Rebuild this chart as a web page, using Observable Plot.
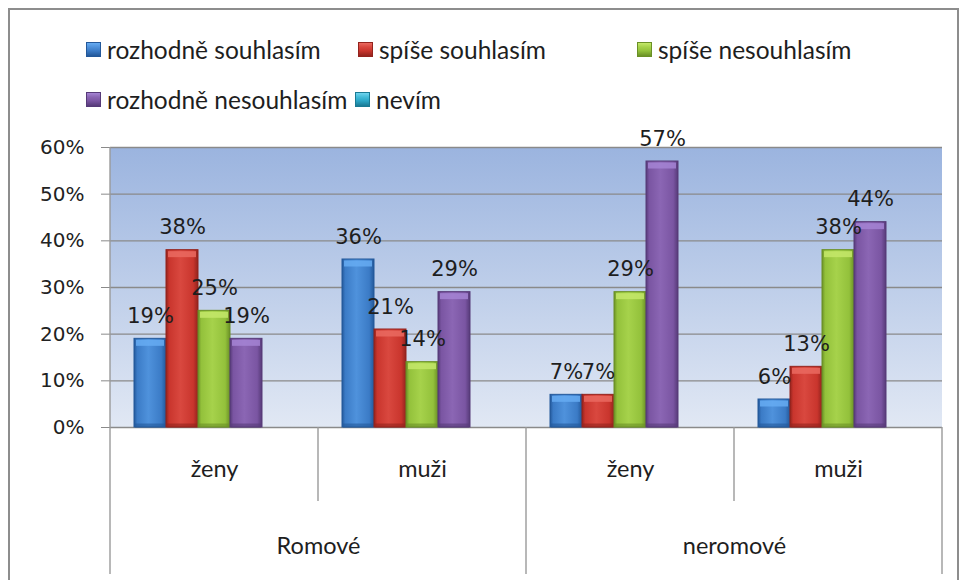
<!DOCTYPE html>
<html><head><meta charset="utf-8">
<script src="https://cdn.jsdelivr.net/npm/d3@7"></script>
<script src="https://cdn.jsdelivr.net/npm/@observablehq/plot@0.6"></script>
<style>
body{margin:0;background:#fff;}
#wrap{position:relative;width:961px;height:580px;overflow:hidden;background:#fff;}
#border{position:absolute;left:8px;top:8px;width:951px;height:620px;border:2px solid #8d8d8d;box-sizing:border-box;}
.leg{position:absolute;display:flex;align-items:center;font-family:Lato,"Open Sans",sans-serif;font-size:24.5px;color:#1e1e1e;white-space:nowrap;height:30px;}
.sw{width:15px;height:15px;margin-right:6px;box-sizing:border-box;}
#chart{position:absolute;left:0;top:0;}
</style></head><body>
<div id="wrap"><div id="border"></div><div id="chart"></div></div>
<script>
// ---- data ----
const series = ["rozhodně souhlasím", "spíše souhlasím", "spíše nesouhlasím", "rozhodně nesouhlasím", "nevím"];
const groups = ["Romové", "Romové", "neromové", "neromové"];
const subgroups = ["ženy", "muži", "ženy", "muži"];
const rozhodneSouhlasim = [0.19, 0.36, 0.07, 0.06];
const spiseSouhlasim = [0.38, 0.21, 0.07, 0.13];
const spiseNesouhlasim = [0.25, 0.14, 0.29, 0.38];
const rozhodneNesouhlasim = [0.19, 0.29, 0.57, 0.44];
const nevim = [null, null, null, null];
const yTicks = [0, 0.1, 0.2, 0.3, 0.4, 0.5, 0.6];

// ---- colours (base, light, dark) ----
const palette = [
  ["#3b7bc6", "#4f92dc", "#23589a"],
  ["#c9352d", "#d9483f", "#93231d"],
  ["#93c13b", "#a6d24b", "#6a9026"],
  ["#7a55a2", "#8b66b4", "#563a78"],
  ["#2ba6c6", "#45bcd9", "#1a7a94"]
];
const topLight = ["#66abf2", "#ea6a60", "#c4e86a", "#a584d4", "#70d4ee"];

const keys = subgroups.map((s, i) => groups[i] + "|" + s);
const valueArrays = [rozhodneSouhlasim, spiseSouhlasim, spiseNesouhlasim, rozhodneNesouhlasim, nevim];
const rows = [];
valueArrays.forEach((arr, si) => arr.forEach((v, gi) => {
  if (v != null) rows.push({key: keys[gi], series: series[si], si, value: v});
}));
const groupRows = [];
groups.forEach((g, i) => { if (i === 0 || groups[i - 1] !== g) groupRows.push({key: keys[i], group: g}); });

const pct = d3.format(".0%");
const numFont = "DejaVu Sans, Verdana, sans-serif";
const txtFont = "Lato, 'Open Sans', sans-serif";

const plot = Plot.plot({
  width: 961,
  height: 580,
  marginLeft: 110,
  marginRight: 19,
  marginTop: 147,
  marginBottom: 153,
  style: {background: "transparent", overflow: "visible"},
  fx: {domain: keys, padding: 0, label: null},
  x: {domain: series, paddingInner: 0, paddingOuter: 0.725, axis: null},
  y: {domain: [0, 0.6], axis: null},
  color: {domain: series, range: series.map((_, i) => `url(#barGrad${i})`)},
  marks: [
    Plot.gridY(yTicks, {stroke: "#8a8a8a", strokeOpacity: 1, strokeWidth: 1.4}),
    Plot.axisY({ticks: yTicks, tickFormat: pct, tickSize: 9, tickPadding: 17, stroke: "#8a8a8a", fill: "#222", fontSize: 20, fontFamily: numFont, label: null}),
    Plot.axisFx({anchor: "bottom", tickSize: 0, tickPadding: 0, lineAnchor: "middle", dy: 42, tickFormat: k => k.split("|")[1], fontSize: 23.5, fontFamily: txtFont, fill: "#1e1e1e", label: null}),
    Plot.barY(rows, {fx: "key", x: "series", y: "value", fill: "series", stroke: d => palette[d.si][2], strokeWidth: 1}),
    Plot.tickY(rows, {fx: "key", x: "series", y: "value", stroke: d => topLight[d.si], strokeWidth: 6, dy: 4, insetLeft: 2, insetRight: 2, strokeOpacity: 0.85}),
    Plot.tickY(rows, {fx: "key", x: "series", y: 0, stroke: d => palette[d.si][2], strokeWidth: 4, dy: -2, insetLeft: 1, insetRight: 1, strokeOpacity: 0.6}),
    Plot.text(rows, {fx: "key", x: "series", y: "value", text: d => pct(d.value), lineAnchor: "bottom", dy: -16, fontSize: 21, fontFamily: numFont, fill: "#1e1e1e"}),
    Plot.text(groupRows, {fx: "key", text: "group", frameAnchor: "bottom-right", textAnchor: "middle", lineAnchor: "middle", dy: 119, fontSize: 23.5, fontFamily: txtFont, fill: "#1e1e1e"})
  ]
});

// gradients
const svg = d3.select(plot.tagName === "svg" ? plot : plot.querySelector("svg"));
const defs = svg.insert("defs", ":first-child");
const bg = defs.append("linearGradient").attr("id", "bgGrad").attr("x1", 0).attr("y1", 0).attr("x2", 0).attr("y2", 1);
bg.append("stop").attr("offset", "0%").attr("stop-color", "#9bb4df");
bg.append("stop").attr("offset", "100%").attr("stop-color", "#e1e8f4");
palette.forEach((c, i) => {
  const g = defs.append("linearGradient").attr("id", `barGrad${i}`).attr("x1", 0).attr("y1", 0).attr("x2", 1).attr("y2", 0);
  [[0, c[2]], [0.1, c[0]], [0.45, c[1]], [0.85, c[0]], [1, c[2]]].forEach(([o, col]) =>
    g.append("stop").attr("offset", o).attr("stop-color", col));
});

// plot-area background and category separators (from the plot's own scales)
const fxs = plot.scale("fx");
const ys = plot.scale("y");
const band = d3.scaleBand(fxs.domain, fxs.range).paddingInner(0).paddingOuter(0);
const yScale = d3.scaleLinear(ys.domain, ys.range);
const y0 = yScale(0), yTop = yScale(0.6);
const xStart = band(keys[0]);
const xEnd = band(keys[keys.length - 1]) + band.bandwidth();
svg.insert("rect", "defs + *")
  .attr("x", xStart).attr("y", yTop).attr("width", xEnd - xStart).attr("height", y0 - yTop)
  .attr("fill", "url(#bgGrad)");
const sep = svg.append("g").attr("stroke", "#9a9a9a").attr("stroke-width", 1.4);
keys.forEach((k, i) => {
  const x = band(k);
  const isGroupStart = i === 0 || groups[i - 1] !== groups[i];
  sep.append("line").attr("x1", x).attr("x2", x)
    .attr("y1", i === 0 ? yTop : y0).attr("y2", isGroupStart ? y0 + 147 : y0 + 74);
});
sep.append("line").attr("x1", xEnd).attr("x2", xEnd).attr("y1", y0).attr("y2", y0 + 147);

document.getElementById("chart").appendChild(plot);

// legend
const legPos = [[86, 34], [358, 34], [637, 34], [86, 84], [355, 84]];
const wrap = document.getElementById("wrap");
series.forEach((s, i) => {
  const item = document.createElement("div");
  item.className = "leg";
  item.style.left = legPos[i][0] + "px";
  item.style.top = legPos[i][1] + "px";
  const sw = document.createElement("div");
  sw.className = "sw";
  sw.style.background = `linear-gradient(to bottom, ${topLight[i]} 0%, ${palette[i][1]} 30%, ${palette[i][0]} 60%, ${palette[i][2]} 100%)`;
  sw.style.border = `1px solid ${palette[i][2]}`;
  const t = document.createElement("span");
  t.textContent = s;
  item.appendChild(sw); item.appendChild(t);
  wrap.appendChild(item);
});
</script>
</body></html>
